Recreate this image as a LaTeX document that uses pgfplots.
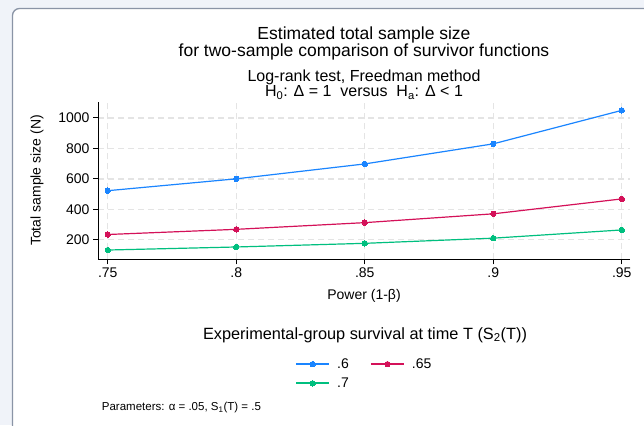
\documentclass[border=0pt]{standalone}
\usepackage{fontspec}
\setmainfont{Liberation Sans}
\usepackage{pgfplots}
\pgfplotsset{compat=1.18}
\definecolor{sblue}{RGB}{26,133,255}
\definecolor{sred}{RGB}{212,17,89}
\definecolor{sgreen}{RGB}{0,191,127}
\definecolor{bgout}{RGB}{240,243,249}
\definecolor{framec}{RGB}{138,148,166}
\definecolor{gridc}{RGB}{228,228,228}
\begin{document}
\begin{tikzpicture}
\useasboundingbox (0,0) rectangle (644pt,-425pt);
\fill[bgout] (0,0) rectangle (644pt,-425pt);
\begin{scope}
\clip (0,0) rectangle (644pt,-425pt);
\draw[framec, line width=1.3pt, fill=white, rounded corners=7pt] (12.5pt,-8.5pt) rectangle (660pt,-440pt);
\end{scope}
\begin{axis}[
  at={(98pt,-259.3pt)}, anchor=south west,
  width=532pt, height=157.6pt, scale only axis,
  xmin=0.7462, xmax=0.9532, ymin=71, ymax=1107,
  axis x line*=bottom, axis y line*=left,
  xtick={0.75,0.8,0.85,0.9,0.95}, xticklabels={.75,.8,.85,.9,.95},
  ytick={200,400,600,800,1000},
  /pgf/number format/1000 sep={},
  /pgf/number format/assume math mode=true,
  tick align=outside, major tick length=5pt,
  tick style={black, line width=1pt},
  axis line style={black, line width=1pt},
  grid=major,
  major grid style={gridc, line width=1.4pt, dash pattern=on 6pt off 4pt},
  tick label style={font=\fontsize{14}{14}\selectfont},
  xlabel={Power (1-β)}, ylabel={Total sample size (N)},
  label style={font=\fontsize{14}{14}\selectfont},
  x label style={at={(axis description cs:0.5,0)}, anchor=center, yshift=-37pt},
  y label style={at={(axis description cs:0,0.5)}, anchor=center, yshift=61pt},
  legend columns=2,
  legend style={draw=none, fill=none, at={(axis description cs:0.3703,-0.6154)}, anchor=north west,
    font=\fontsize{14}{14}\selectfont, inner sep=0pt,
    /tikz/every odd column/.append style={column sep=5pt},
    /tikz/every even column/.append style={column sep=19pt}, row sep=4pt},
  legend image code/.code={\draw[#1, line width=2pt, mark repeat=2, mark phase=2] plot coordinates {(0pt,0pt)(16.5pt,0pt)(33pt,0pt)};},
  every axis plot/.append style={line width=1.2pt, mark=*, mark size=2.7pt},
  clip=false,
]
\addplot[sblue, mark options={fill=sblue, draw=sblue, line width=0pt}] coordinates {(0.75,522) (0.8,600) (0.85,698) (0.9,830) (0.95,1050)};
\addlegendentry{.6}
\addplot[sred, mark options={fill=sred, draw=sred, line width=0pt}] coordinates {(0.75,234) (0.8,268) (0.85,312) (0.9,370) (0.95,468)};
\addlegendentry{.65}
\addplot[sgreen, mark options={fill=sgreen, draw=sgreen, line width=0pt}] coordinates {(0.75,132) (0.8,152) (0.85,176) (0.9,210) (0.95,264)};
\addlegendentry{.7}
\end{axis}
\node[anchor=north, align=center, inner sep=0pt, font=\fontsize{17.5}{15}\selectfont] at (364pt,-26.8pt) {Estimated total sample size\\for two-sample comparison of survivor functions};
\node[anchor=north, align=center, inner sep=0pt, font=\fontsize{16}{12.7}\selectfont] at (364pt,-69.5pt) {Log-rank test, Freedman method\\H\textsubscript{0}: Δ = 1\ \ versus\ \ H\textsubscript{a}: Δ < 1};
\node[anchor=base, font=\fontsize{16.3}{16.3}\selectfont] at (365pt,-339.3pt) {Experimental-group survival at time T (S\textsubscript{2}(T))};
\node[anchor=base west, font=\fontsize{11.5}{11.5}\selectfont, inner sep=0pt] at (101.7pt,-410.7pt) {Parameters: α = .05, S\textsubscript{1}(T) = .5};
\end{tikzpicture}
\end{document}
